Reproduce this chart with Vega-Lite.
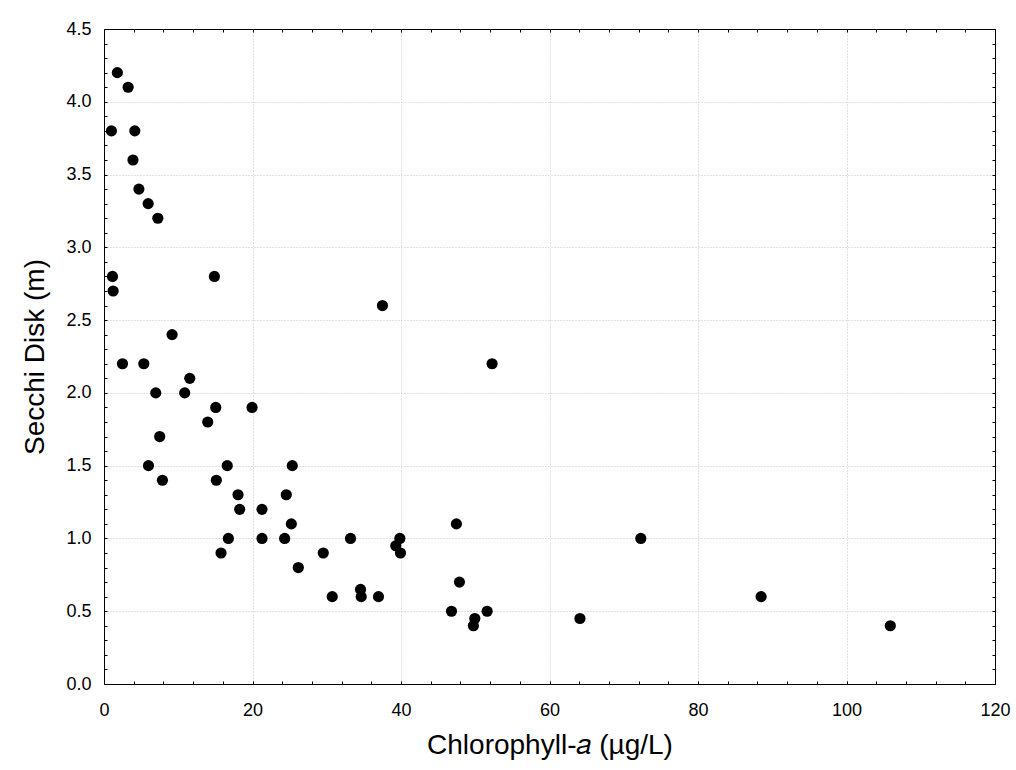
{
  "$schema": "https://vega.github.io/schema/vega-lite/v6.json",
  "width": 891,
  "height": 655,
  "autosize": {"type": "none"},
  "padding": {"left": 104, "top": 29, "right": 21, "bottom": 86},
  "background": "white",
  "config": {
    "view": {"stroke": null},
    "font": "Liberation Sans",
    "axis": {"domainColor": "black", "tickColor": "black", "labelColor": "black", "titleColor": "black", "labelFont": "Liberation Sans", "titleFont": "Liberation Sans", "titleFontWeight": "normal"}
  },
  "data": {
    "values": [
      {"chl": 1.8, "secchi": 4.2}, {"chl": 3.25, "secchi": 4.1}, {"chl": 1.0, "secchi": 3.8},
      {"chl": 4.15, "secchi": 3.8}, {"chl": 3.9, "secchi": 3.6}, {"chl": 4.7, "secchi": 3.4},
      {"chl": 5.95, "secchi": 3.3}, {"chl": 7.25, "secchi": 3.2}, {"chl": 1.14, "secchi": 2.8},
      {"chl": 1.23, "secchi": 2.7}, {"chl": 14.87, "secchi": 2.8}, {"chl": 9.17, "secchi": 2.4},
      {"chl": 2.49, "secchi": 2.2}, {"chl": 5.36, "secchi": 2.2}, {"chl": 11.55, "secchi": 2.1},
      {"chl": 6.97, "secchi": 2.0}, {"chl": 10.87, "secchi": 2.0}, {"chl": 15.05, "secchi": 1.9},
      {"chl": 19.94, "secchi": 1.9}, {"chl": 13.97, "secchi": 1.8}, {"chl": 7.5, "secchi": 1.7},
      {"chl": 5.99, "secchi": 1.5}, {"chl": 16.6, "secchi": 1.5}, {"chl": 25.36, "secchi": 1.5},
      {"chl": 7.87, "secchi": 1.4}, {"chl": 15.13, "secchi": 1.4}, {"chl": 18.05, "secchi": 1.3},
      {"chl": 24.55, "secchi": 1.3}, {"chl": 18.27, "secchi": 1.2}, {"chl": 21.28, "secchi": 1.2},
      {"chl": 25.23, "secchi": 1.1}, {"chl": 16.75, "secchi": 1.0}, {"chl": 21.28, "secchi": 1.0},
      {"chl": 24.33, "secchi": 1.0}, {"chl": 33.2, "secchi": 1.0}, {"chl": 39.85, "secchi": 1.0},
      {"chl": 39.3, "secchi": 0.95}, {"chl": 39.93, "secchi": 0.9}, {"chl": 15.76, "secchi": 0.9},
      {"chl": 29.53, "secchi": 0.9}, {"chl": 26.17, "secchi": 0.8}, {"chl": 30.74, "secchi": 0.6},
      {"chl": 34.55, "secchi": 0.65}, {"chl": 34.64, "secchi": 0.6}, {"chl": 36.97, "secchi": 0.6},
      {"chl": 46.8, "secchi": 0.5}, {"chl": 37.5, "secchi": 2.6}, {"chl": 52.27, "secchi": 2.2},
      {"chl": 47.46, "secchi": 1.1}, {"chl": 47.87, "secchi": 0.7}, {"chl": 51.6, "secchi": 0.5},
      {"chl": 49.94, "secchi": 0.45}, {"chl": 49.75, "secchi": 0.4}, {"chl": 64.1, "secchi": 0.45},
      {"chl": 72.3, "secchi": 1.0}, {"chl": 88.5, "secchi": 0.6}, {"chl": 105.9, "secchi": 0.4}
    ]
  },
  "layer": [
    {
      "mark": {"type": "point", "opacity": 0},
      "encoding": {
        "x": {"field": "chl", "type": "quantitative", "scale": {"domain": [0, 120], "nice": false, "zero": false},
          "axis": {"orient": "bottom", "values": [0, 20, 40, 60, 80, 100, 120], "ticks": false, "domain": true,
            "grid": true, "gridColor": "#c4c4c4", "gridDash": [1, 2], "gridWidth": 1,
            "labelFontSize": 18, "labelPadding": 17, "labelFlush": false,
            "title": "Chlorophyll-𝑎 (µg/L)", "titleFontSize": 28, "titlePadding": 12}},
        "y": {"field": "secchi", "type": "quantitative", "scale": {"domain": [0, 4.5], "nice": false, "zero": false},
          "axis": {"orient": "left", "values": [0, 0.5, 1, 1.5, 2, 2.5, 3, 3.5, 4, 4.5], "ticks": false, "domain": true,
            "grid": true, "gridColor": "#c4c4c4", "gridDash": [1, 2], "gridWidth": 1, "format": ".1f",
            "labelFontSize": 18, "labelPadding": 13, "labelFlush": false,
            "title": "Secchi Disk (m)", "titleFontSize": 28, "titlePadding": 16}}
      }
    },
    {
      "mark": {"type": "point", "opacity": 0},
      "encoding": {
        "x": {"field": "chl", "type": "quantitative",
          "axis": {"orient": "bottom", "values": [0, 4, 8, 12, 16, 20, 24, 28, 32, 36, 40, 44, 48, 52, 56, 60, 64, 68, 72, 76, 80, 84, 88, 92, 96, 100, 104, 108, 112, 116, 120],
            "labels": false, "domain": false, "grid": false, "ticks": true, "tickSize": -3, "title": null}},
        "y": {"field": "secchi", "type": "quantitative",
          "axis": {"orient": "left", "values": [0, 0.1, 0.2, 0.3, 0.4, 0.5, 0.6, 0.7, 0.8, 0.9, 1, 1.1, 1.2, 1.3, 1.4, 1.5, 1.6, 1.7, 1.8, 1.9, 2, 2.1, 2.2, 2.3, 2.4, 2.5, 2.6, 2.7, 2.8, 2.9, 3, 3.1, 3.2, 3.3, 3.4, 3.5, 3.6, 3.7, 3.8, 3.9, 4, 4.1, 4.2, 4.3, 4.4, 4.5],
            "labels": false, "domain": false, "grid": false, "ticks": true, "tickSize": -3, "title": null}}
      }
    },
    {
      "mark": {"type": "point", "opacity": 0},
      "encoding": {
        "x": {"field": "chl", "type": "quantitative",
          "axis": {"orient": "top", "values": [0, 4, 8, 12, 16, 20, 24, 28, 32, 36, 40, 44, 48, 52, 56, 60, 64, 68, 72, 76, 80, 84, 88, 92, 96, 100, 104, 108, 112, 116, 120],
            "labels": false, "domain": true, "grid": false, "ticks": true, "tickSize": -3, "title": null}},
        "y": {"field": "secchi", "type": "quantitative",
          "axis": {"orient": "right", "values": [0, 0.1, 0.2, 0.3, 0.4, 0.5, 0.6, 0.7, 0.8, 0.9, 1, 1.1, 1.2, 1.3, 1.4, 1.5, 1.6, 1.7, 1.8, 1.9, 2, 2.1, 2.2, 2.3, 2.4, 2.5, 2.6, 2.7, 2.8, 2.9, 3, 3.1, 3.2, 3.3, 3.4, 3.5, 3.6, 3.7, 3.8, 3.9, 4, 4.1, 4.2, 4.3, 4.4, 4.5],
            "labels": false, "domain": true, "grid": false, "ticks": true, "tickSize": -3, "title": null}}
      }
    },
    {
      "mark": {"type": "circle", "color": "black", "opacity": 1, "size": 125},
      "encoding": {
        "x": {"field": "chl", "type": "quantitative", "axis": null},
        "y": {"field": "secchi", "type": "quantitative", "axis": null}
      }
    }
  ],
  "resolve": {"axis": {"x": "independent", "y": "independent"}}
}
